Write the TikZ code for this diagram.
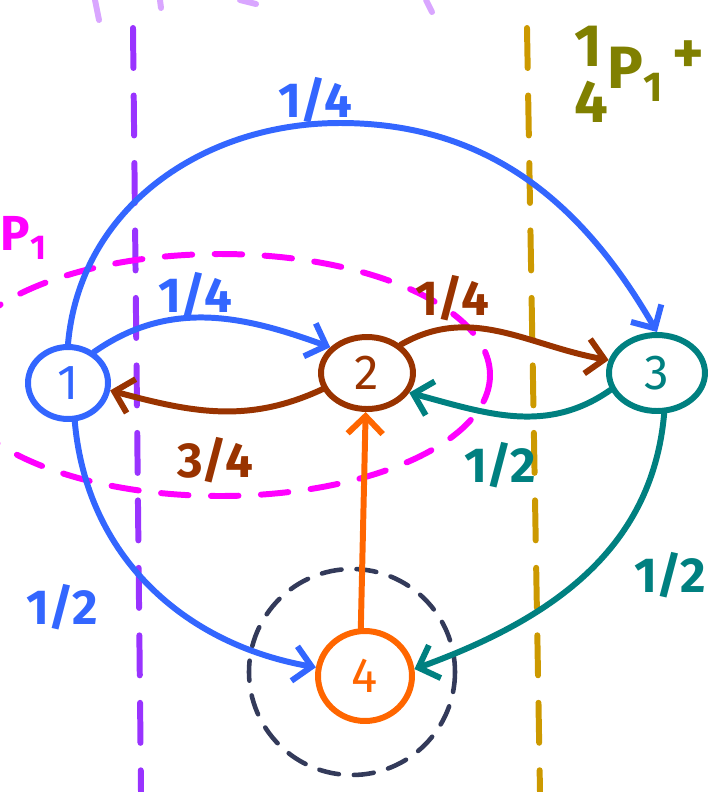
\documentclass[tikz,border=0pt]{standalone}
\usepackage{fontspec}
\setmainfont{Fira Sans}
\usetikzlibrary{shapes.geometric,arrows.meta}
\definecolor{penblue}{HTML}{3366FF}
\definecolor{penbrown}{HTML}{993300}
\definecolor{penteal}{HTML}{008080}
\definecolor{penorange}{HTML}{FF6600}
\definecolor{penpink}{HTML}{FF00FF}
\definecolor{penpurple}{HTML}{9933FF}
\definecolor{pengold}{HTML}{CC9900}
\definecolor{penolive}{HTML}{808000}
\definecolor{pennavy}{HTML}{333A5A}
\definecolor{penlilac}{HTML}{D9A6FF}
\begin{document}
\begin{tikzpicture}[x=0.02cm, y=-0.02cm, line cap=round,
    state/.style={ellipse, draw, line width=3.4pt, inner sep=0pt, font=\fontsize{28}{30}\selectfont},
    edge/.style={line width=3.4pt, -{Straight Barb[length=3.5mm,width=7mm]}},
    lab/.style={font=\fontsize{28}{30}\selectfont\bfseries}]
    \useasboundingbox (0,0) rectangle (715,792);

    % faded strokes cut off at the top
    \draw[penlilac, line width=3.4pt] (95,0) -- (99,20) (160,0) -- (161,8) (240,0) -- (256,4) (426,0) -- (432,12);

    % the two dashed cuts
    \draw[penpurple, line width=3.4pt, dash pattern=on 0.8cm off 0.55cm] (133,28) -- (141,792);
    \draw[pengold, line width=3.4pt, dash pattern=on 0.8cm off 0.55cm] (527,28) -- (540,792);

    % the sets
    \draw[penpink, line width=3.4pt, dash pattern=on 0.55cm off 0.45cm] (220,375) ellipse [x radius=270, y radius=121];
    \node[lab, penpink] (p1) at (24,238) {P\textsubscript{1}};
    \draw[pennavy, line width=2.6pt, dash pattern=on 0.4cm off 0.3cm] (352,672) circle [radius=103];

    % states
    \node[state, penblue, minimum width=1.6cm, minimum height=1.44cm] (n1) at (68,383) {1};
    \node[state, penbrown, minimum width=1.84cm, minimum height=1.44cm] (n2) at (367,373) {2};
    \node[state, penteal, minimum width=1.92cm, minimum height=1.52cm] (n3) at (657,373) {3};
    \node[state, penorange, minimum width=1.88cm, minimum height=1.8cm] (n4) at (365,676) {4};

    % transitions
    \draw[edge, penblue] (n1.north) to[out=85,in=180] (340,123) to[out=0,in=120] (n3.north);
    \node[lab, penblue] (l13) at (315,100) {1/4};
    \draw[edge, penblue] (n1.50) to[out=35,in=160] (n2.145);
    \node[lab, penblue] (l12) at (195,295) {1/4};
    \draw[edge, penbrown] (n2.200) to[out=205,in=-15] (n1.-10);
    \node[lab, penbrown] (l21) at (215,460) {3/4};
    \draw[edge, penbrown] (n2.40) to[out=30,in=170] (n3.165);
    \node[lab, penbrown] (l23) at (452,298) {1/4};
    \draw[edge, penteal] (n3.200) to[out=215,in=-15] (n2.-25);
    \node[lab, penteal] (l32) at (500,465) {1/2};
    \draw[edge, penblue] (n1.-80) to[out=-85,in=170] (n4.170);
    \node[lab, penblue] (l14) at (62,607) {1/2};
    \draw[edge, penteal] (n3.-80) to[out=-95,in=20] (n4.8);
    \node[lab, penteal] (l34) at (670,575) {1/2};
    \draw[edge, penorange] (n4.95) -- (n2.-92);

    % note at the top right
    \node[lab, penolive, font=\fontsize{34}{36}\selectfont\bfseries] (num) at (588,46) {1};
    \node[lab, penolive, font=\fontsize{34}{36}\selectfont\bfseries] (den) at (591,102) {4};
    \node[lab, penolive, font=\fontsize{34}{36}\selectfont\bfseries] (pnote) at (636,74) {P\textsubscript{1}};
    \node[lab, penolive, font=\fontsize{34}{36}\selectfont\bfseries] (plus) at (688,57) {+};
\end{tikzpicture}
\end{document}
